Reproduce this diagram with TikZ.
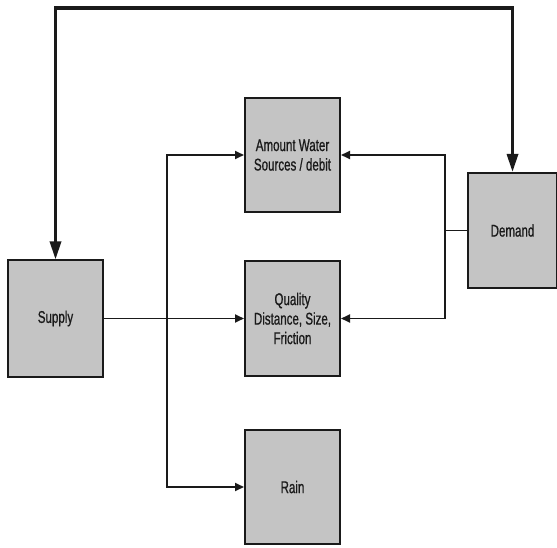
\documentclass[tikz,border=0pt]{standalone}
\usepackage{fontspec}
\setsansfont[FakeStretch=0.68,FakeBold=0.8]{Liberation Sans}
\usepackage{xcolor}
\usepackage{tikz}
\usetikzlibrary{arrows.meta}
\definecolor{ink}{HTML}{1A1A1A}
\definecolor{stipple}{HTML}{C4C4C4}
\tikzset{
  block/.style={draw=ink,line width=2pt,fill=stipple,align=center,
    font=\sffamily\fontsize{17}{19.5}\selectfont,text=ink,inner sep=0pt},
  link/.style={draw=ink,line width=1.7pt},
  feed/.style={link,-{Triangle[length=9pt,width=8pt]}},
  loopback/.style={draw=ink,line width=3.2pt,
    {Triangle[length=18pt,width=11pt]}-{Triangle[length=18pt,width=11pt]}}
}
\begin{document}
\begin{tikzpicture}[x=1pt,y=-1pt]
  \useasboundingbox (0,0) rectangle (557,548);
  \node[block,minimum width=95pt,minimum height=116pt] (supply) at (55.5,318.5) {Supply};
  \node[block,minimum width=95pt,minimum height=114pt] (amount) at (292.5,155) {Amount Water\\Sources / debit};
  \node[block,minimum width=95pt,minimum height=114pt] (quality) at (292.5,318.5) {Quality\\Distance, Size,\\Friction};
  \node[block,minimum width=95pt,minimum height=114pt] (rain) at (292.5,487) {Rain};
  \node[block,minimum width=89pt,minimum height=115pt] (demand) at (512.5,230.5) {Demand};
  % supply side
  \coordinate (split) at (167,318.5);
  \draw[link] (supply.east) -- (split);
  \draw[feed] (split) |- (amount.west);
  \draw[feed] (split) -- (quality.west);
  \draw[feed] (split) |- (rain.west);
  % demand side
  \coordinate (join) at (445,230.5);
  \draw[link] (demand.west) -- (join);
  \draw[feed] (join) |- (amount.east);
  \draw[feed] (join) |- (quality.east);
  % top loop
  \coordinate (top) at (283,8);
  \draw[loopback] (supply.north) |- (top) -| (demand.north);
\end{tikzpicture}
\end{document}
